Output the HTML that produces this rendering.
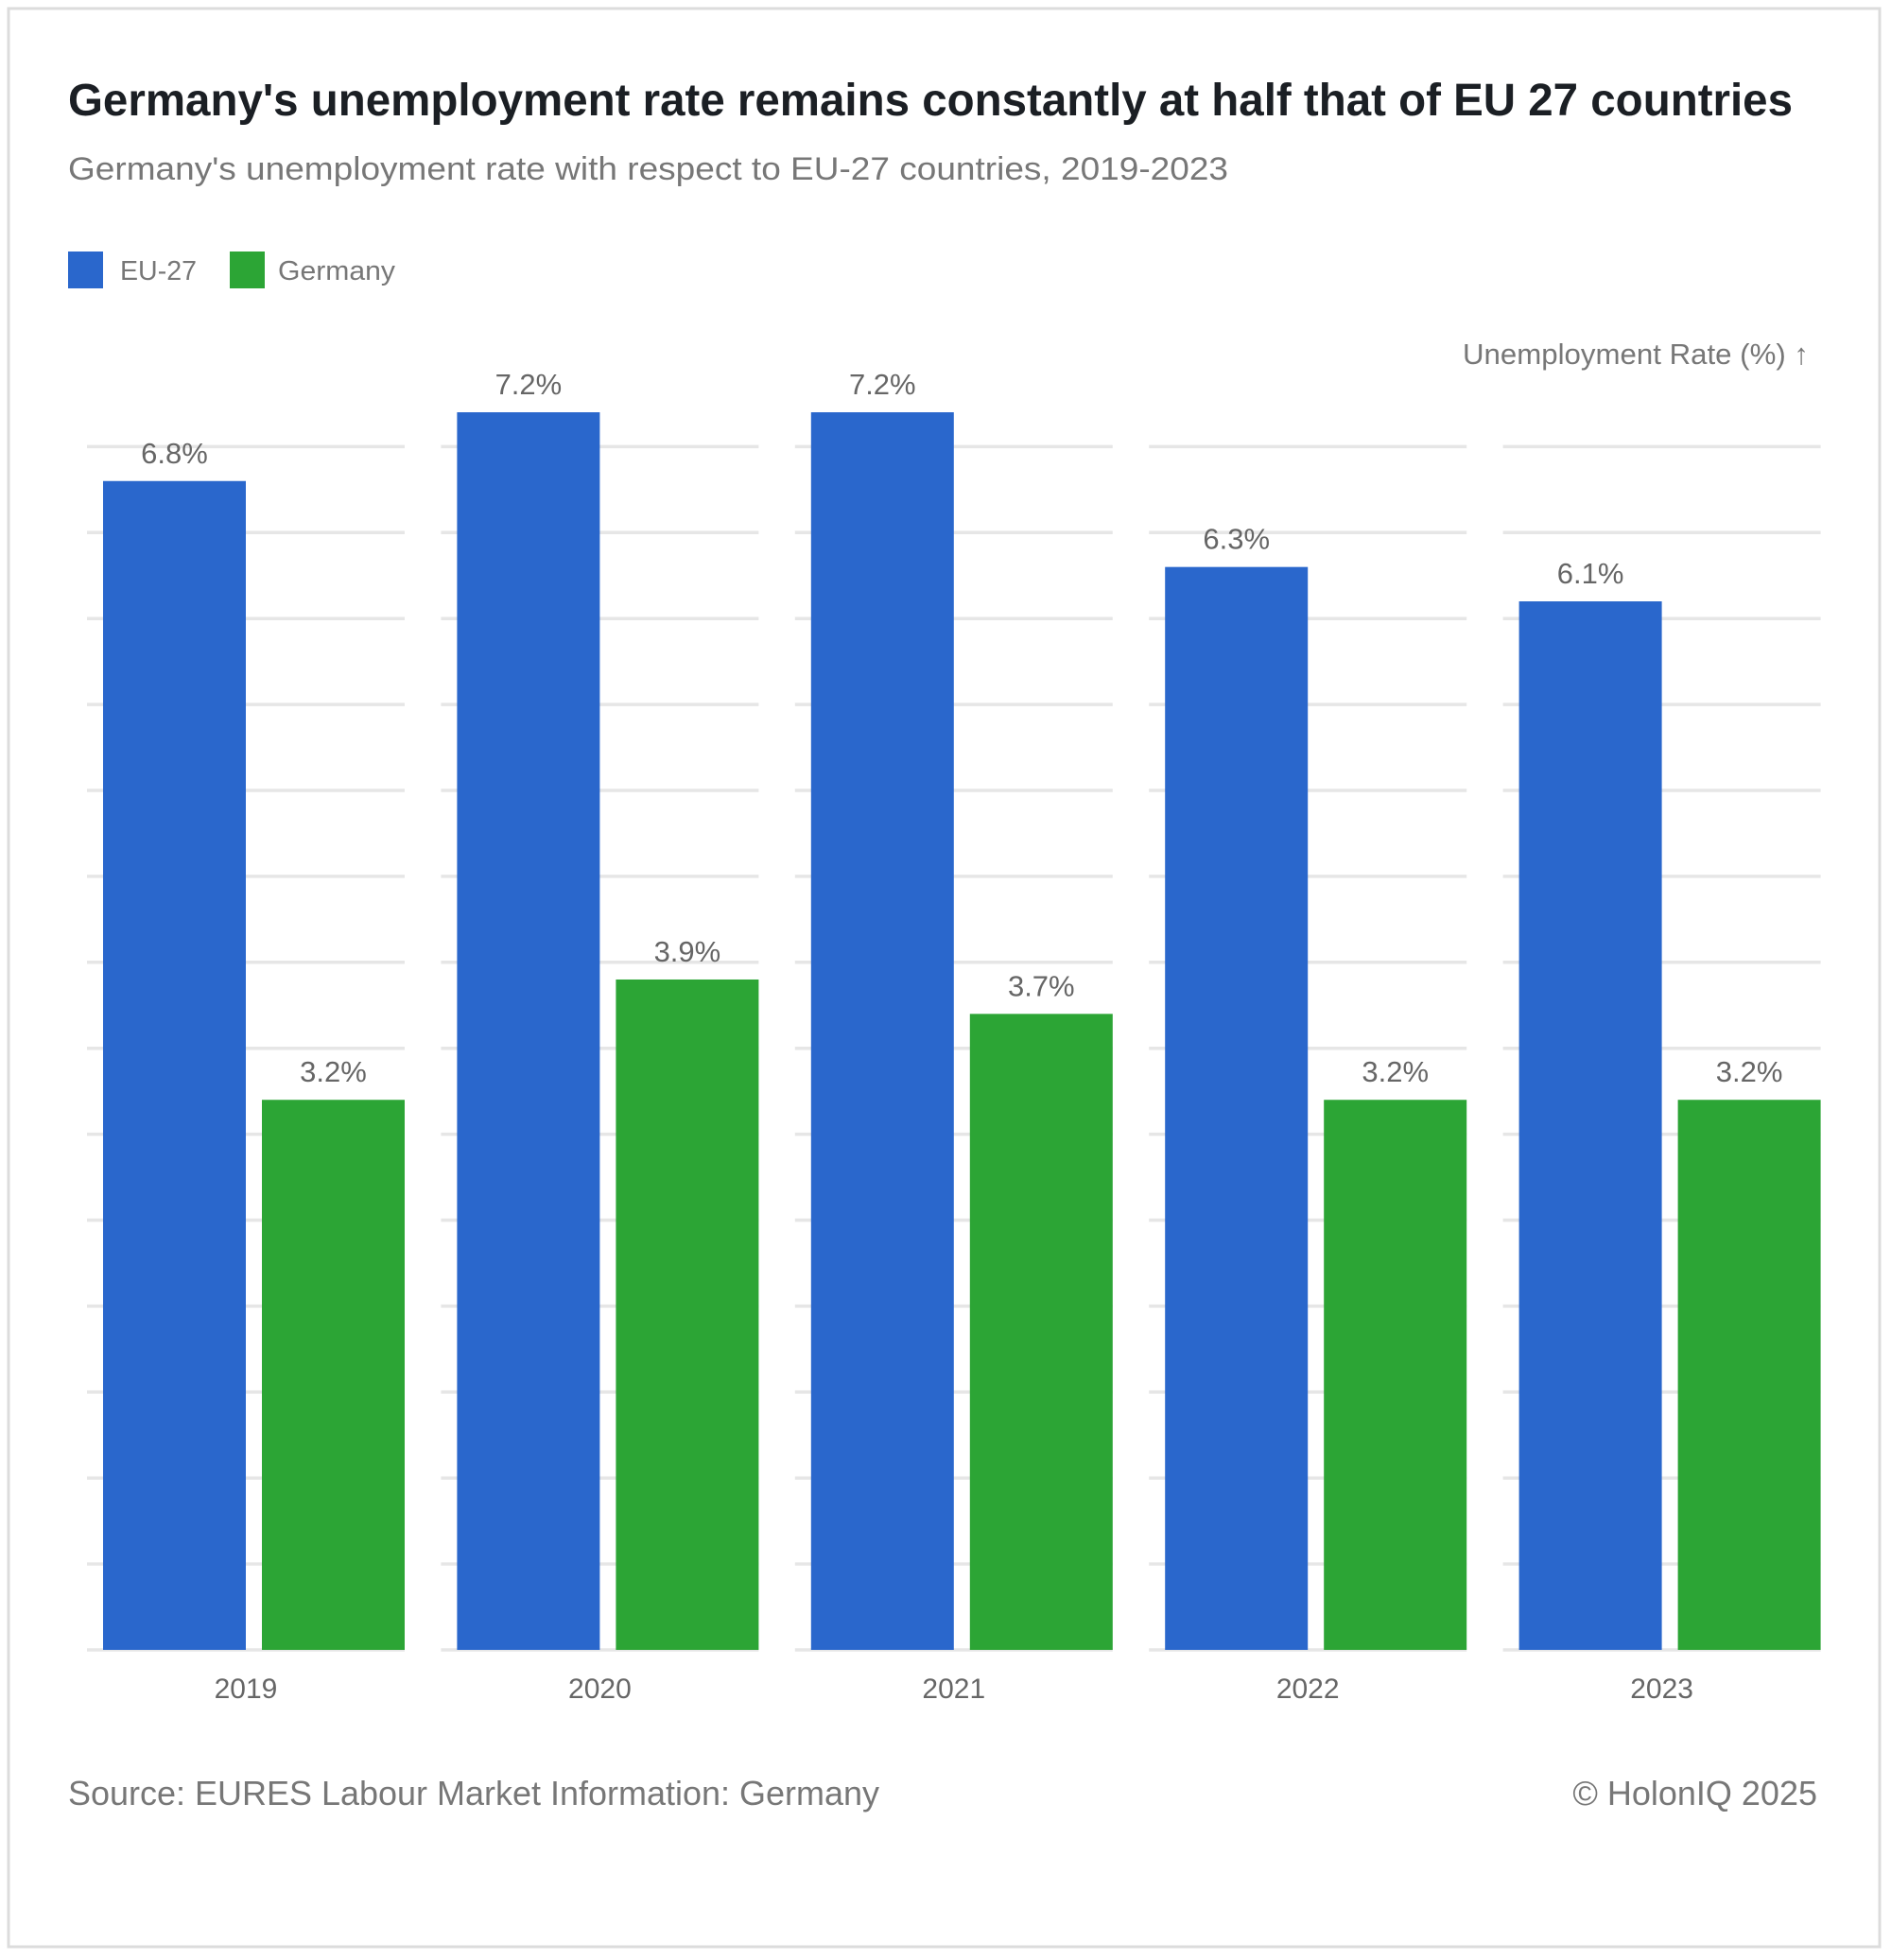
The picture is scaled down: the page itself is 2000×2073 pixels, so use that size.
<!DOCTYPE html>
<html><head><meta charset="utf-8"><style>
html,body{margin:0;padding:0;background:#fff;}
svg{display:block;}
text{font-family:"Liberation Sans",sans-serif;}
</style></head><body>
<svg id="chart" width="2000" height="2073" viewBox="0 0 2000 2073" xmlns="http://www.w3.org/2000/svg">
<rect x="9" y="9" width="1979" height="2050" fill="#fff" stroke="#dcdcdc" stroke-width="3"/>
<text x="72" y="122" font-size="48" font-weight="bold" fill="#1b1f24" textLength="1824" lengthAdjust="spacingAndGlyphs">Germany's unemployment rate remains constantly at half that of EU 27 countries</text>
<text x="72" y="190" font-size="34" fill="#777" textLength="1227" lengthAdjust="spacingAndGlyphs">Germany's unemployment rate with respect to EU-27 countries, 2019-2023</text>
<g>
<rect x="72" y="266" width="37" height="39" fill="#2a67cc"/>
<text x="127" y="296" font-size="29" fill="#777" textLength="81" lengthAdjust="spacingAndGlyphs">EU-27</text>
<rect x="243" y="266" width="37" height="39" fill="#2ca535"/>
<text x="294" y="296" font-size="29" fill="#777" textLength="124" lengthAdjust="spacingAndGlyphs">Germany</text>
</g>
<text x="1913" y="385" font-size="31" fill="#777" text-anchor="end" textLength="366" lengthAdjust="spacingAndGlyphs">Unemployment Rate (%) ↑</text>
<g id="grid"></g>
<g id="bars"></g>
<g id="labels"></g>
<text x="72" y="1909" font-size="36" fill="#777" textLength="858" lengthAdjust="spacingAndGlyphs">Source: EURES Labour Market Information: Germany</text>
<text x="1922" y="1909" font-size="36" fill="#777" text-anchor="end">© HolonIQ 2025</text>
</svg>
<script>
const categories = ["2019","2020","2021","2022","2023"];
const euValues = [6.8,7.2,7.2,6.3,6.1];
const deValues = [3.2,3.9,3.7,3.2,3.2];
const valueLabelsEU = ["6.8%","7.2%","7.2%","6.3%","6.1%"];
const valueLabelsDE = ["3.2%","3.9%","3.7%","3.2%","3.2%"];
const gridTicks = [0,0.5,1,1.5,2,2.5,3,3.5,4,4.5,5,5.5,6,6.5,7];

const NS = "http://www.w3.org/2000/svg";
const baseY = 1745, unit = 181.8;
function y(v){ return baseY - v*unit; }
const bandStart = 92, bandStep = 374.4, bandW = 336, barW = 151, barOff = 17;
function bandX(i){ return bandStart + i*bandStep; }
function mk(tag, attrs, parent){ const e=document.createElementNS(NS,tag); for(const k in attrs) e.setAttribute(k,attrs[k]); parent.appendChild(e); return e; }

const grid=document.getElementById('grid'), bars=document.getElementById('bars'), labels=document.getElementById('labels');
categories.forEach((c,i)=>{
  gridTicks.forEach(t=>{
    const l=mk('line',{x1:bandX(i),x2:bandX(i)+bandW,y1:y(t),y2:y(t),stroke:'#e6e6e6','stroke-width':3.5},grid);
    
    
  });
  const bx1=bandX(i)+barOff, bx2=bandX(i)+bandW-barW;
  const b1=mk('rect',{x:bx1,y:y(euValues[i]),width:barW,height:baseY-y(euValues[i]),fill:'#2a67cc'},bars);
  
  
  const b2=mk('rect',{x:bx2,y:y(deValues[i]),width:barW,height:baseY-y(deValues[i]),fill:'#2ca535'},bars);
  
  
  const t1=mk('text',{x:bx1+barW/2,y:y(euValues[i])-19,'font-size':31,fill:'#666','text-anchor':'middle'},labels);
  t1.textContent=valueLabelsEU[i];
  
  
  const t2=mk('text',{x:bx2+barW/2,y:y(deValues[i])-19,'font-size':31,fill:'#666','text-anchor':'middle'},labels);
  t2.textContent=valueLabelsDE[i];
  
  
  const xl=mk('text',{x:bandX(i)+bandW/2,y:1796,'font-size':30,fill:'#666','text-anchor':'middle'},labels);
  xl.textContent=c;
  
  
});
</script>
</body></html>
